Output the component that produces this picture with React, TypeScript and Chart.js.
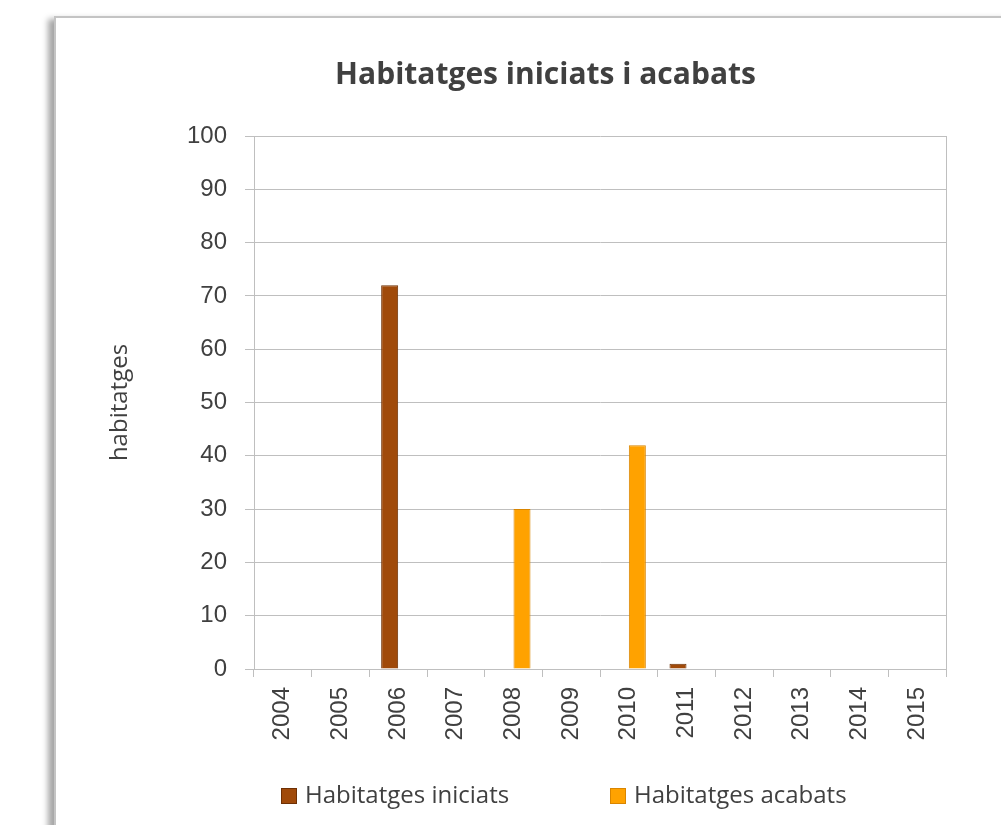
import React, { useEffect, useRef } from "react";
import { Chart, registerables } from "chart.js";

Chart.register(...registerables);

const TITLE = "Habitatges iniciats i acabats";
const Y_TITLE = "habitatges";
const years = ["2004", "2005", "2006", "2007", "2008", "2009", "2010", "2011", "2012", "2013", "2014", "2015"];
const seriesNames = ["Habitatges iniciats", "Habitatges acabats"];
const iniciats = [0, 0, 72, 0, 0, 0, 0, 1, 0, 0, 0, 0];
const acabats = [0, 0, 0, 0, 30, 0, 42, 0, 0, 0, 0, 0];
const yTicks = [0, 10, 20, 30, 40, 50, 60, 70, 80, 90, 100];

const COLORS = ["#A04A0A", "#FFA200"];
const BORDERS = ["#6E3004", "#D98500"];
const TEXT = "#404040";
const GRID = "#BFBFBF";

const legendPlugin = {
  id: "customLegend",
  afterDraw(chart: any) {
    const ctx = chart.ctx;
    ctx.save();
    chart.data.datasets.forEach((ds: any, i: number) => {
      const x = 281 + i * 329;
      const y = 796;
      ctx.fillStyle = ds.backgroundColor;
      ctx.fillRect(x, y - 8, 16, 16);
      ctx.strokeStyle = ds.borderColor;
      ctx.lineWidth = 1;
      ctx.strokeRect(x + 0.5, y - 7.5, 15, 15);
      ctx.fillStyle = TEXT;
      ctx.font = "24px 'Open Sans'";
      ctx.textBaseline = "middle";
      ctx.textAlign = "left";
      ctx.fillText(ds.label, x + 24, y);
    });
    ctx.restore();
  },
};

export default function App() {
  const ref = useRef<HTMLCanvasElement>(null);
  useEffect(() => {
    const chart = new Chart(ref.current!, {
      type: "bar",
      data: {
        labels: years,
        datasets: [
          {
            label: seriesNames[0],
            data: iniciats,
            backgroundColor: COLORS[0],
            borderColor: BORDERS[0],
            borderWidth: 1,
          },
          {
            label: seriesNames[1],
            data: acabats,
            backgroundColor: COLORS[1],
            borderColor: BORDERS[1],
            borderWidth: 1,
          },
        ],
      },
      options: {
        responsive: false,
        animation: false,
        layout: { padding: { left: 90, right: 0, top: 0, bottom: 76 } },
        datasets: { bar: { categoryPercentage: 0.59, barPercentage: 1 } },
        plugins: {
          legend: { display: false },
          tooltip: { enabled: false },
          title: {
            display: true,
            text: TITLE,
            color: TEXT,
            font: { family: "'Open Sans'", size: 30, weight: "bold" },
            padding: { top: 57, bottom: 43 },
          },
        },
        scales: {
          x: {
            offset: true,
            grid: {
              offset: true,
              drawOnChartArea: false,
              drawTicks: true,
              tickLength: 8,
              color: GRID,
            },
            border: { display: true, color: GRID },
            ticks: {
              autoSkip: false,
              maxRotation: 90,
              minRotation: 90,
              padding: 10,
              color: TEXT,
              font: { family: "Liberation Sans", size: 24 },
            },
            afterFit: (s: any) => {
              s.height = 80;
            },
          },
          y: {
            min: 0,
            max: 100,
            afterBuildTicks: (s: any) => {
              s.ticks = yTicks.map((v) => ({ value: v }));
            },
            grid: { color: GRID, tickLength: 9, drawTicks: true },
            border: { display: true, color: GRID },
            ticks: {
              padding: 18,
              color: TEXT,
              font: { family: "Liberation Sans", size: 24 },
            },
            title: {
              display: true,
              text: Y_TITLE,
              color: TEXT,
              font: { family: "'Open Sans'", size: 24 },
              padding: { top: 15.6, bottom: 0 },
            },
            afterFit: (s: any) => {
              s.width = 164;
            },
          },
          yR: {
            type: "linear",
            position: "right",
            display: true,
            grid: { display: false, drawTicks: false },
            ticks: { display: false },
            border: { display: true, color: GRID },
            afterFit: (s: any) => {
              s.width = 55;
            },
          },
        },
      },
      plugins: [legendPlugin],
    } as any);
    return () => chart.destroy();
  }, []);

  return (
    <div
      style={{
        position: "fixed",
        left: 0,
        top: 0,
        width: 1001,
        height: 825,
        overflow: "hidden",
        background: "#ffffff",
      }}
    >
      <div
        style={{
          position: "absolute",
          left: 54,
          top: 16,
          width: 1100,
          height: 1000,
          border: "2px solid #C4C4C4",
          boxShadow: "-6px 3px 6px rgba(0,0,0,0.35)",
          background: "#ffffff",
        }}
      />
      <canvas
        ref={ref}
        width={1001}
        height={825}
        style={{ position: "absolute", left: 0, top: 0, display: "block" }}
      />
    </div>
  );
}
